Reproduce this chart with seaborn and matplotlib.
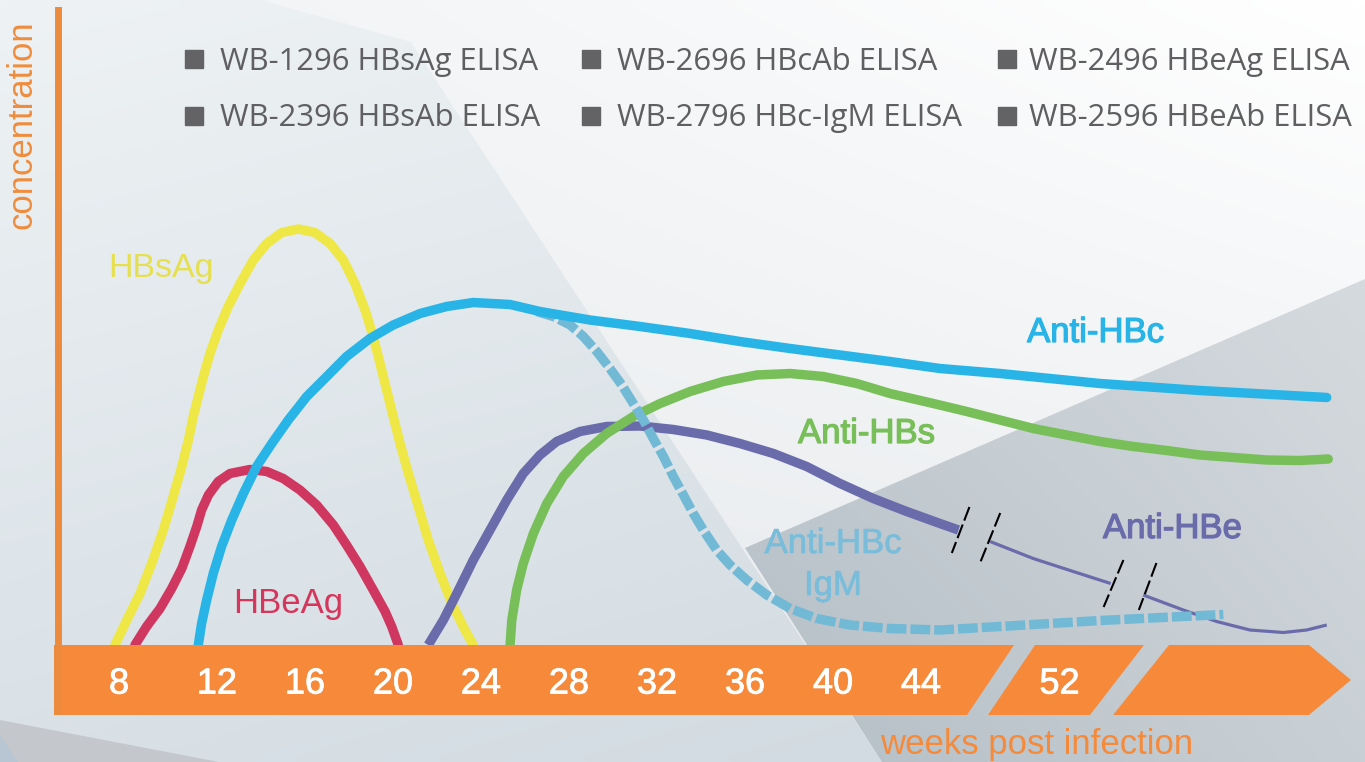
import numpy as np
import matplotlib
matplotlib.use("Agg")
import matplotlib.pyplot as plt
from matplotlib.patches import Polygon, Rectangle
from matplotlib.colors import to_rgb
from matplotlib import patheffects as pe
import seaborn as sns

# x = position on the week axis (compressed after the break), y = concentration (a.u.)
hbsag_x = [7.36, 7.90, 8.50, 9.03, 9.56, 10.01, 10.40, 10.70, 10.92, 11.15, 11.38, 11.68, 12.06, 12.51,
           13.05, 13.65, 14.26, 14.94, 15.70, 16.45, 17.14, 17.74, 18.27, 18.73, 19.10, 19.41, 19.71,
           20.01, 20.32, 20.70, 21.15, 21.60, 22.14, 22.74, 23.27, 23.65]
hbsag_y = [0, 5, 10.3, 16.3, 23, 29.7, 35.7, 41, 45.7, 49.7, 53.7, 58.3, 63, 67.7,
           72.3, 77, 80.3, 82.5, 83.2, 82.5, 80.3, 77, 72.3, 67, 61.7, 56.3, 51,
           45.7, 40.3, 34.3, 27.7, 21, 14.3, 7.7, 3, 0]

hbeag_x = [8.27, 8.80, 9.41, 9.94, 10.40, 10.77, 11.08, 11.30, 11.61, 12.06, 12.59, 13.50, 14.26,
           15.01, 15.77, 16.53, 17.29, 17.89, 18.50, 19.10, 19.64, 19.94, 20.24]
hbeag_y = [0, 3.7, 7.3, 11.3, 15.3, 19.7, 23.7, 27, 30, 32.7, 34.3, 35.1, 34.7,
           33.3, 31, 28, 24, 20, 15.7, 11, 6.7, 3.7, 0]

anti_hbc_x = [11.15, 11.30, 11.53, 11.83, 12.21, 12.67, 13.20, 13.80, 14.49, 15.24, 16.08, 16.99, 17.89,
              18.95, 20.01, 21.23, 22.44, 23.65, 25.32, 26.68, 28.95, 31.23, 33.50, 35.77, 38.05, 40.32,
              42.59, 44.86, 47.59, 52.14, 56.68, 62.44]
anti_hbc_y = [0, 4.3, 9, 14.3, 19.7, 25, 30.3, 35.7, 40.3, 45, 49.7, 53.7, 57.7,
              61.3, 64, 66.3, 67.7, 68.5, 68.1, 66.7, 65, 63.7, 62.3, 60.7, 59.3, 58,
              56.7, 55.3, 54.3, 52.3, 50.9, 49.5]

igm_x = [26.53, 27.29, 28.05, 28.65, 29.26, 29.86, 30.40, 30.92, 31.38, 31.83, 32.29, 32.74, 33.20,
         33.65, 34.10, 34.71, 35.32, 36.08, 36.99, 38.05, 39.26, 40.77, 42.59, 44.86, 47.59, 52.14, 57.74]
igm_y = [66.7, 65.7, 64, 61.7, 58.7, 55.3, 52, 48.3, 45, 41.3, 37.7, 33.7, 30,
         26.3, 23, 19, 16, 13, 10, 7.3, 5.3, 4, 3.3, 3, 3.7, 4.9, 6.1]

anti_hbe_x = [21.60, 22.29, 22.90, 23.65, 24.41, 25.17, 25.92, 26.68, 27.44, 28.50, 29.71, 31.23, 32.74,
              34.26, 35.77, 37.29, 38.80, 40.32, 41.83, 43.35, 44.86, 45.70]
anti_hbe_y = [0, 5, 10.3, 17, 23, 29, 34.3, 38, 40.7, 42.7, 43.7, 43.8, 43.1,
              42, 40.3, 38.3, 35.7, 32.3, 29.3, 26.7, 24.3, 23]
anti_hbe_mid_x = [47.14, 49.10, 50.92, 52.62]
anti_hbe_mid_y = [20.7, 17.3, 14.7, 12.3]
anti_hbe_late_x = [54.10, 55.92, 57.44, 58.95, 60.47, 61.53, 62.44]
anti_hbe_late_y = [10, 7, 4.7, 3, 2.5, 3, 4]

anti_hbs_x = [25.32, 25.40, 25.62, 25.92, 26.38, 26.99, 27.74, 28.65, 29.71, 30.92, 32.14, 33.50, 35.01,
              36.53, 38.05, 39.56, 41.08, 42.59, 44.56, 46.08, 47.59, 49.10, 50.62, 52.14, 53.65, 55.17,
              56.68, 58.20, 59.71, 61.23, 62.51]
anti_hbs_y = [0, 5, 11, 16.3, 22.3, 28.3, 33.7, 38.3, 42.3, 45.7, 48.3, 50.7, 52.7,
              54, 54.3, 53.7, 52.3, 50.3, 48.3, 46.7, 45, 43.3, 42, 40.7, 39.7, 38.9,
              38, 37.5, 37, 36.9, 37.2]

# axis break marks on the Anti-HBe line: (x0, y0, x1, y1)
breaks = [(46.2, 27.6, 45.4, 18.4), (47.6, 26.4, 46.7, 16.6),
          (53.2, 17.0, 52.3, 7.6), (54.7, 16.4, 53.9, 7.0)]

tick_pos = [7.55, 12, 16, 20, 24, 28, 32, 36, 40, 44, 50.3]
tick_labels = ["8", "12", "16", "20", "24", "28", "32", "36", "40", "44", "52"]

products = [["WB-1296 HBsAg ELISA", "WB-2696 HBcAb ELISA", "WB-2496 HBeAg ELISA"],
            ["WB-2396 HBsAb ELISA", "WB-2796 HBc-IgM ELISA", "WB-2596 HBeAb ELISA"]]

sns.set_style("white")
plt.rcParams['font.family'] = ['Liberation Sans', 'DejaVu Sans']

W, H = 1365, 762
fig = plt.figure(figsize=(W / 100, H / 100), dpi=100)

# ---- background (pixel coordinates)
bg = fig.add_axes([0, 0, 1, 1], zorder=0)
bg.axis('off')


def grad_fill(poly, ctl, ctr, cbl, cbr, z=0):
    patch = Polygon(poly, closed=True, facecolor='none', edgecolor='none')
    bg.add_patch(patch)
    xs = [p[0] for p in poly]
    ys = [p[1] for p in poly]
    a = np.array([to_rgb(c) for c in (ctl, ctr, cbl, cbr)])
    u = np.linspace(0, 1, 64)[None, :, None]
    v = np.linspace(0, 1, 64)[:, None, None]
    img = (1 - v) * ((1 - u) * a[0] + u * a[1]) + v * ((1 - u) * a[2] + u * a[3])
    im = bg.imshow(img, extent=(min(xs), max(xs), max(ys), min(ys)),
                   interpolation='bilinear', aspect='auto', zorder=z)
    im.set_clip_path(patch)


grad_fill([(0, 0), (W, 0), (W, H), (0, H)], '#f0f2f4', '#ffffff', '#e4e8eb', '#e9ecef')
grad_fill([(0, 0), (260, 0), (411, 42), (882, H), (0, H)], '#eef2f4', '#e8edf0', '#d9e1e7', '#d2dbe1', 1)
grad_fill([(745, 548), (W, 279), (W, H), (882, H)], '#c4ccd2', '#d5dade', '#b4bec6', '#c9d0d5', 1)
bg.add_patch(Polygon([(0, 720), (219, H), (0, H)], closed=True, facecolor='#c4c8cc', edgecolor='none', zorder=2))
bg.add_patch(Polygon([(0, 735), (18, H), (0, H)], closed=True, facecolor='#b7c6d2', edgecolor='none', zorder=2))
bg.set_xlim(0, W)
bg.set_ylim(H, 0)

# orange time bar with breaks and arrow head
bar_color = '#f68a3a'
axis_color = '#ec8a3e'
for seg in [[(54, 645), (1014, 645), (967, 715), (54, 715)],
            [(1035, 645), (1144, 645), (1090, 715), (988, 715)],
            [(1169, 645), (1309, 645), (1351, 680), (1309, 715), (1113, 715)]]:
    bg.add_patch(Polygon(seg, closed=True, facecolor=bar_color, edgecolor='none', zorder=3))
bg.add_patch(Rectangle((54, 645), 7, 70, facecolor=axis_color, edgecolor='none', zorder=4))

# product list
legend_kw = dict(color='#5f5f62', fontsize=21, family=['Open Sans', 'DejaVu Sans'], va='baseline', zorder=5)
sq_x = [194, 591, 1007]
txt_x = [220, 617, 1029]
sq_y = [59, 116]
base_y = [70, 126]
texts = []
for r in range(2):
    for c in range(3):
        bg.plot(sq_x[c], sq_y[r], marker='s', markersize=13, color='#636366', zorder=5)
        texts.append(bg.text(txt_x[c], base_y[r], products[r][c], **legend_kw))

# ---- main chart (weeks / concentration)
ax = fig.add_axes([57.5 / W, 117 / H, 1307.5 / W, 635 / H], zorder=1)
ax.patch.set_alpha(0)
ax.set_xlim(4.75, 64.18)
ax.set_ylim(0, 127)

lw = 6.8
thin = 2.3
sns.lineplot(x=hbsag_x, y=hbsag_y, ax=ax, color='#eee746', linewidth=lw, estimator=None, sort=False)
sns.lineplot(x=hbeag_x, y=hbeag_y, ax=ax, color='#cf3760', linewidth=lw, estimator=None, sort=False)
sns.lineplot(x=anti_hbe_x, y=anti_hbe_y, ax=ax, color='#6a6baa', linewidth=lw, estimator=None, sort=False,
             solid_capstyle='butt')
sns.lineplot(x=anti_hbe_mid_x, y=anti_hbe_mid_y, ax=ax, color='#6a6baa', linewidth=thin, estimator=None,
             sort=False, solid_capstyle='butt')
sns.lineplot(x=anti_hbe_late_x, y=anti_hbe_late_y, ax=ax, color='#6a6baa', linewidth=thin, estimator=None,
             sort=False, solid_capstyle='butt')
sns.lineplot(x=anti_hbs_x, y=anti_hbs_y, ax=ax, color='#78bf5a', linewidth=lw, estimator=None, sort=False)
sns.lineplot(x=igm_x, y=igm_y, ax=ax, color='#72b9d6', linewidth=lw, estimator=None, sort=False,
             linestyle=(0, (2.1, 0.42)), dash_capstyle='butt')
sns.lineplot(x=anti_hbc_x, y=anti_hbc_y, ax=ax, color='#28b4e7', linewidth=lw, estimator=None, sort=False)
for line in ax.lines:
    line.set_solid_joinstyle('round')
for x0, y0, x1, y1 in breaks:
    ax.plot([x0, x1], [y0, y1], color='black', linewidth=1.5, linestyle=(0, (7, 2)), zorder=5)

# curve labels
ax.text(7.05, 73.6, "HBsAg", color='#e6e04e', fontsize=24.5, va='baseline')
ax.text(12.73, 6.4, "HBeAg", color='#d6355c', fontsize=25, va='baseline')
for x, y, s, col in [(48.82, 60.6, "Anti-HBc", '#28b4e7'), (38.41, 40.4, "Anti-HBs", '#78bf5a'),
                     (52.27, 21.4, "Anti-HBe", '#6a6baa')]:
    ax.text(x, y, s, color=col, fontsize=25, va='baseline',
            path_effects=[pe.withStroke(linewidth=0.9, foreground=col)])
igm_fx = [pe.withStroke(linewidth=0.5, foreground='#79bddb')]
ax.text(40.0, 18.4, "Anti-HBc", color='#79bddb', fontsize=25, va='baseline', ha='center', path_effects=igm_fx)
ax.text(40.0, 10.0, "IgM", color='#79bddb', fontsize=25, va='baseline', ha='center', path_effects=igm_fx)

# axes styling
for side in ['top', 'right', 'bottom']:
    ax.spines[side].set_visible(False)
ax.spines['left'].set_color(axis_color)
ax.spines['left'].set_linewidth(5)
ax.set_yticks([])
ax.set_xticks(tick_pos)
ax.set_xticklabels(tick_labels, color='white', fontsize=26,
                   family=['Liberation Sans Narrow', 'Liberation Sans'])
for lab in ax.get_xticklabels():
    lab.set_path_effects([pe.withStroke(linewidth=0.6, foreground='white')])
ax.tick_params(axis='x', length=0, pad=15.5)

ax.set_ylabel("concentration", color='#f08c3c', fontsize=25)
ax.yaxis.set_label_coords(-0.027, 0.82)
ax.yaxis.label.set_va('center')
ax.set_xlabel("weeks post infection", color='#f58a3b', fontsize=25)
ax.xaxis.set_label_coords(0.749, -0.157)
ax.xaxis.label.set_va('center')

# fit product text widths to the reference
renderer = fig.canvas.get_renderer()
w0 = texts[0].get_window_extent(renderer).width
scale = 318 / w0
for t in texts:
    t.set_fontsize(t.get_fontsize() * scale)

fig.savefig("out.png", dpi=100)
